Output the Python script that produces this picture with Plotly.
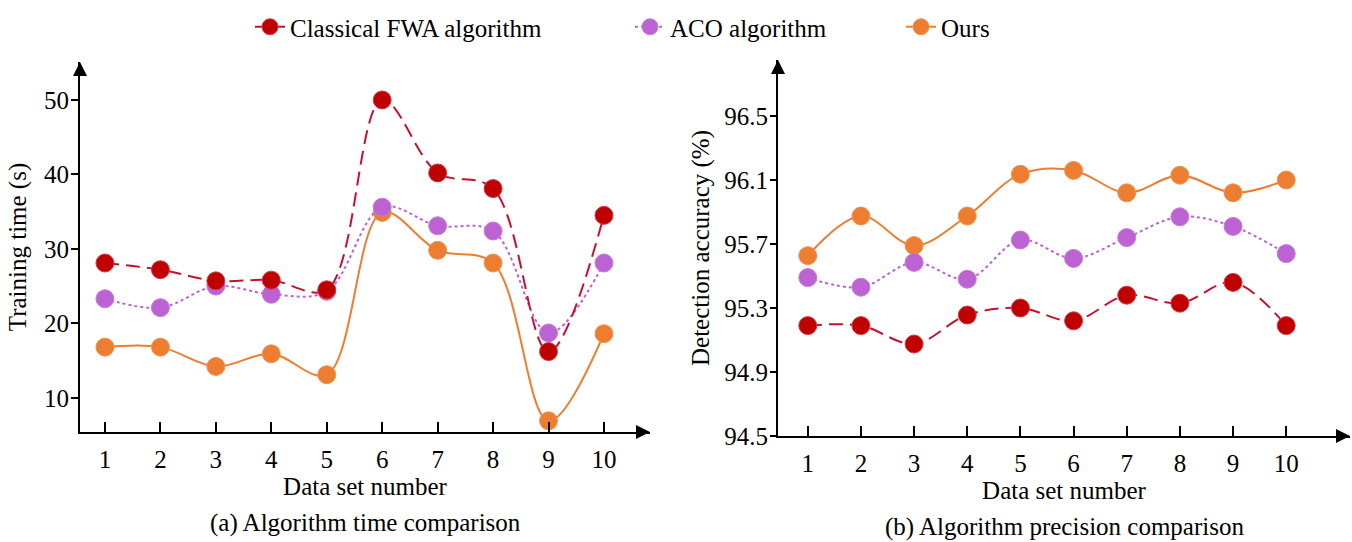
import plotly.graph_objects as go

datasets = [1, 2, 3, 4, 5, 6, 7, 8, 9, 10]

time_fwa = [28.1, 27.2, 25.7, 25.8, 24.5, 50.0, 40.2, 38.1, 16.2, 34.5]
time_aco = [23.3, 22.1, 25.0, 23.9, 24.3, 35.6, 33.1, 32.4, 18.7, 28.1]
time_ours = [16.8, 16.8, 14.2, 15.9, 13.1, 34.9, 29.8, 28.1, 6.9, 18.6]

acc_fwa = [95.19, 95.19, 95.075, 95.256, 95.30, 95.22, 95.38, 95.33, 95.46, 95.19]
acc_aco = [95.49, 95.43, 95.585, 95.48, 95.725, 95.61, 95.74, 95.87, 95.81, 95.64]
acc_ours = [95.627, 95.875, 95.69, 95.875, 96.136, 96.16, 96.02, 96.13, 96.02, 96.10]

time_ticks = [10, 20, 30, 40, 50]
acc_ticks = [94.5, 94.9, 95.3, 95.7, 96.1, 96.5]

names = ["Classical FWA algorithm", "ACO algorithm", "Ours"]
marker_colors = ["#C00000", "#BC62D2", "#ED7D31"]
marker_rims = ["#D23A46", "#C77ADA", "#F0944F"]
line_colors = ["#C8102E", "#BC62D2", "#ED7D31"]
dashes = ["14px,7px", "3px,3px", "solid"]
legend_ids = ["legend", "legend2", "legend3"]

W, H = 1352, 542
FONT = "Liberation Serif"
FS = 25

fig = go.Figure()

series_left = [time_fwa, time_aco, time_ours]
series_right = [acc_fwa, acc_aco, acc_ours]

# draw order: Ours, ACO, FWA (FWA on top)
for i in [2, 1, 0]:
    for ax, data, show in [("1", series_left[i], True), ("2", series_right[i], False)]:
        fig.add_trace(go.Scatter(
            x=datasets, y=data, name=names[i], legend=legend_ids[i],
            mode="lines+markers", showlegend=show,
            xaxis="x" if ax == "1" else "x2", yaxis="y" if ax == "1" else "y2",
            line=dict(color=line_colors[i], width=2, dash=dashes[i], shape="spline", smoothing=1.0),
            marker=dict(color=marker_colors[i], size=18, line=dict(width=1, color=marker_rims[i])),
        ))


def px(x):
    return x / W


def py(y):
    return 1 - y / H


tickfont = dict(family=FONT, size=FS, color="black")
titlefont = dict(family=FONT, size=FS, color="black")
axis_common = dict(showline=True, linecolor="black", linewidth=2, showgrid=False, zeroline=False,
                   tickfont=tickfont, tickcolor="black", tickwidth=1.5, automargin=False)

legend_common = dict(orientation="h", xanchor="left", yanchor="top", y=py(4),
                     xref="container", yref="container",
                     font=dict(family=FONT, size=FS, color="black"), bgcolor="rgba(0,0,0,0)")

fig.update_layout(
    width=W, height=H,
    margin=dict(l=0, r=0, t=0, b=0, autoexpand=False),
    plot_bgcolor="white", paper_bgcolor="white",
    font=dict(family=FONT, size=FS, color="black"),
    xaxis=dict(domain=[px(80), px(650)], range=[0.55, 10.83], anchor="y",
               tickvals=datasets, ticks="inside", ticklen=10, ticklabelstandoff=4, **axis_common,
               title=dict(text="Data set number", font=titlefont, standoff=4)),
    yaxis=dict(domain=[py(432), py(62)], range=[5.4, 55.1], anchor="x",
               tickvals=time_ticks, ticks="outside", ticklen=7, ticklabelstandoff=-3, **axis_common,
               title=dict(text="Training time (s)", font=titlefont, standoff=10)),
    xaxis2=dict(domain=[px(778), px(1350)], range=[0.44, 11.2], anchor="y2",
                tickvals=datasets, ticks="inside", ticklen=10, ticklabelstandoff=4, **axis_common,
                title=dict(text="Data set number", font=titlefont, standoff=4)),
    yaxis2=dict(domain=[py(436), py(60)], range=[94.5, 96.85], anchor="x2",
                tickvals=acc_ticks, ticktext=[f"{v:.1f}" for v in acc_ticks],
                ticks="outside", ticklen=6, ticklabelstandoff=-3, **axis_common,
                title=dict(text="Detection accuracy (%)", font=titlefont, standoff=8)),
    legend=dict(x=px(250), **legend_common),
    legend2=dict(x=px(630), **legend_common),
    legend3=dict(x=px(901), **legend_common),
)

# Arrowheads at axis ends
arrows = [
    (px(650), py(432), -14, 0),
    (px(80), py(62), 0, 14),
    (px(1350), py(436), -14, 0),
    (px(778), py(60), 0, 14),
]
for x, y, axo, ayo in arrows:
    fig.add_annotation(x=x, y=y, xref="paper", yref="paper", text="", showarrow=True,
                       ax=axo, ay=ayo, arrowhead=2, arrowsize=1.4, arrowwidth=2, arrowcolor="black")

fig.add_annotation(x=px(365), y=py(523), xref="paper", yref="paper", showarrow=False,
                   xanchor="center", yanchor="middle",
                   text="(a) Algorithm time comparison", font=titlefont)
fig.add_annotation(x=px(1064), y=py(527), xref="paper", yref="paper", showarrow=False,
                   xanchor="center", yanchor="middle",
                   text="(b) Algorithm precision comparison", font=titlefont)

fig.write_html("out.html", config={"displayModeBar": False},
               post_script="document.body.style.margin='0px';document.body.style.overflow='hidden';")
